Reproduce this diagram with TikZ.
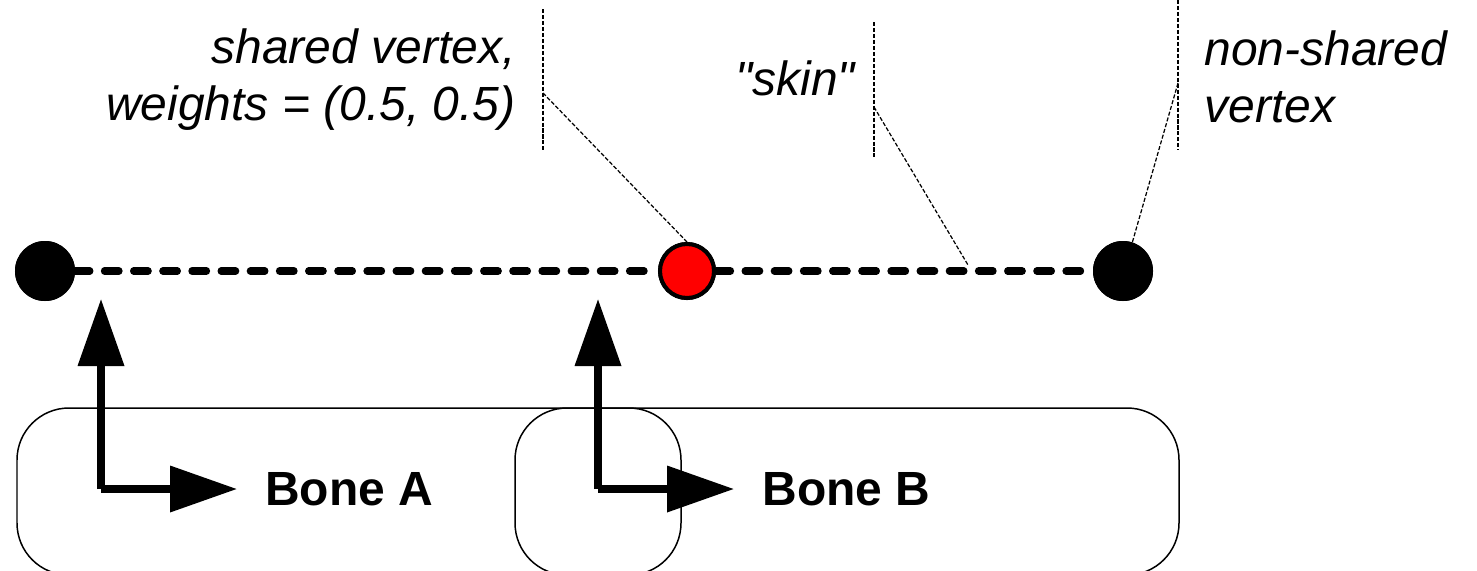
\documentclass[tikz,border=0pt]{standalone}
\usepackage{fontspec}
\setmainfont{Liberation Sans}[Ligatures=TeXOff]
\usetikzlibrary{arrows.meta}
\tikzset{
  vertex/.style={circle, fill=black, inner sep=0pt, minimum size=1.2cm},
  sharedvertex/.style={circle, draw=black, line width=2.3pt, fill=red, inner sep=0pt, minimum size=1.08cm},
  skinline/.style={line width=4.2pt, line cap=round, dash pattern=on 8.2pt off 8.4pt},
  leader/.style={line width=0.7pt, dash pattern=on 2.3pt off 1.1pt},
  bonebox/.style={line width=0.85pt, rounded corners=1.04cm},
  boneaxis/.style={line width=4pt, line join=round, -{Triangle[length=1.34cm, width=0.9cm]}},
  callout/.style={font=\fontsize{27.3}{32.4}\selectfont\itshape, inner sep=0pt},
  bonelabel/.style={font=\fontsize{27.3}{32.4}\selectfont\bfseries, inner sep=0pt, anchor=base west}
}
\begin{document}
\begin{tikzpicture}
    \clip (0,0) rectangle (29.54,-11.4);
    % os dois ossos (caixas sobrepostas)
    \draw[bonebox] (0.34,-8.16) rectangle (13.62,-11.5);
    \draw[bonebox] (10.3,-8.16) rectangle (23.58,-11.5);
    % eixos locais de cada osso
    \coordinate (aorig) at (2.02,-9.78);
    \coordinate (aup) at (2.02,-5.98);
    \coordinate (aright) at (4.74,-9.78);
    \coordinate (borig) at (11.96,-9.78);
    \coordinate (bup) at (11.96,-5.98);
    \coordinate (bright) at (14.68,-9.78);
    \draw[boneaxis] (aorig) -- (aup);
    \draw[boneaxis] (aorig) -- (aright);
    \draw[boneaxis] (borig) -- (bup);
    \draw[boneaxis] (borig) -- (bright);
    \node[bonelabel] (boneA) at (5.3,-10.1) {Bone A};
    \node[bonelabel] (boneB) at (15.24,-10.1) {Bone B};
    % a pele e os seus vertices
    \node[vertex] (vleft) at (0.9,-5.42) {};
    \node[sharedvertex] (vshared) at (13.74,-5.42) {};
    \node[vertex] (vright) at (22.46,-5.42) {};
    \draw[skinline] (vleft) -- (vshared);
    \draw[skinline] (vshared) -- (vright);
    \node[vertex] at (vleft) {};
    \node[sharedvertex] at (vshared) {};
    \node[vertex] at (vright) {};
    % legendas com linhas de chamada
    \node[callout, align=right, anchor=base east] (sharedtxt) at (10.32,-2.4)
      {shared vertex,\\weights = (0.5, 0.5)};
    \coordinate (stop) at (10.86,-0.18);
    \coordinate (sbot) at (10.86,-3.0);
    \coordinate (sknee) at (10.86,-1.86);
    \draw[leader] (stop) -- (sbot);
    \draw[leader] (sknee) -- (vshared.north);
    \node[callout, anchor=base west] (skintxt) at (14.7,-1.9) {"skin"};
    \coordinate (ktop) at (17.48,-0.44);
    \coordinate (kbot) at (17.48,-3.18);
    \coordinate (kknee) at (17.48,-2.14);
    \coordinate (kend) at (19.36,-5.3);
    \draw[leader] (ktop) -- (kbot);
    \draw[leader] (kknee) -- (kend);
    \node[callout, align=left, anchor=base west] (nonsharedtxt) at (24.08,-2.44)
      {non-shared\\vertex};
    \coordinate (ntop) at (23.56,0);
    \coordinate (nbot) at (23.56,-3.0);
    \coordinate (nknee) at (23.56,-1.66);
    \draw[leader] (ntop) -- (nbot);
    \draw[leader] (nknee) -- (vright.72);
\end{tikzpicture}
\end{document}
